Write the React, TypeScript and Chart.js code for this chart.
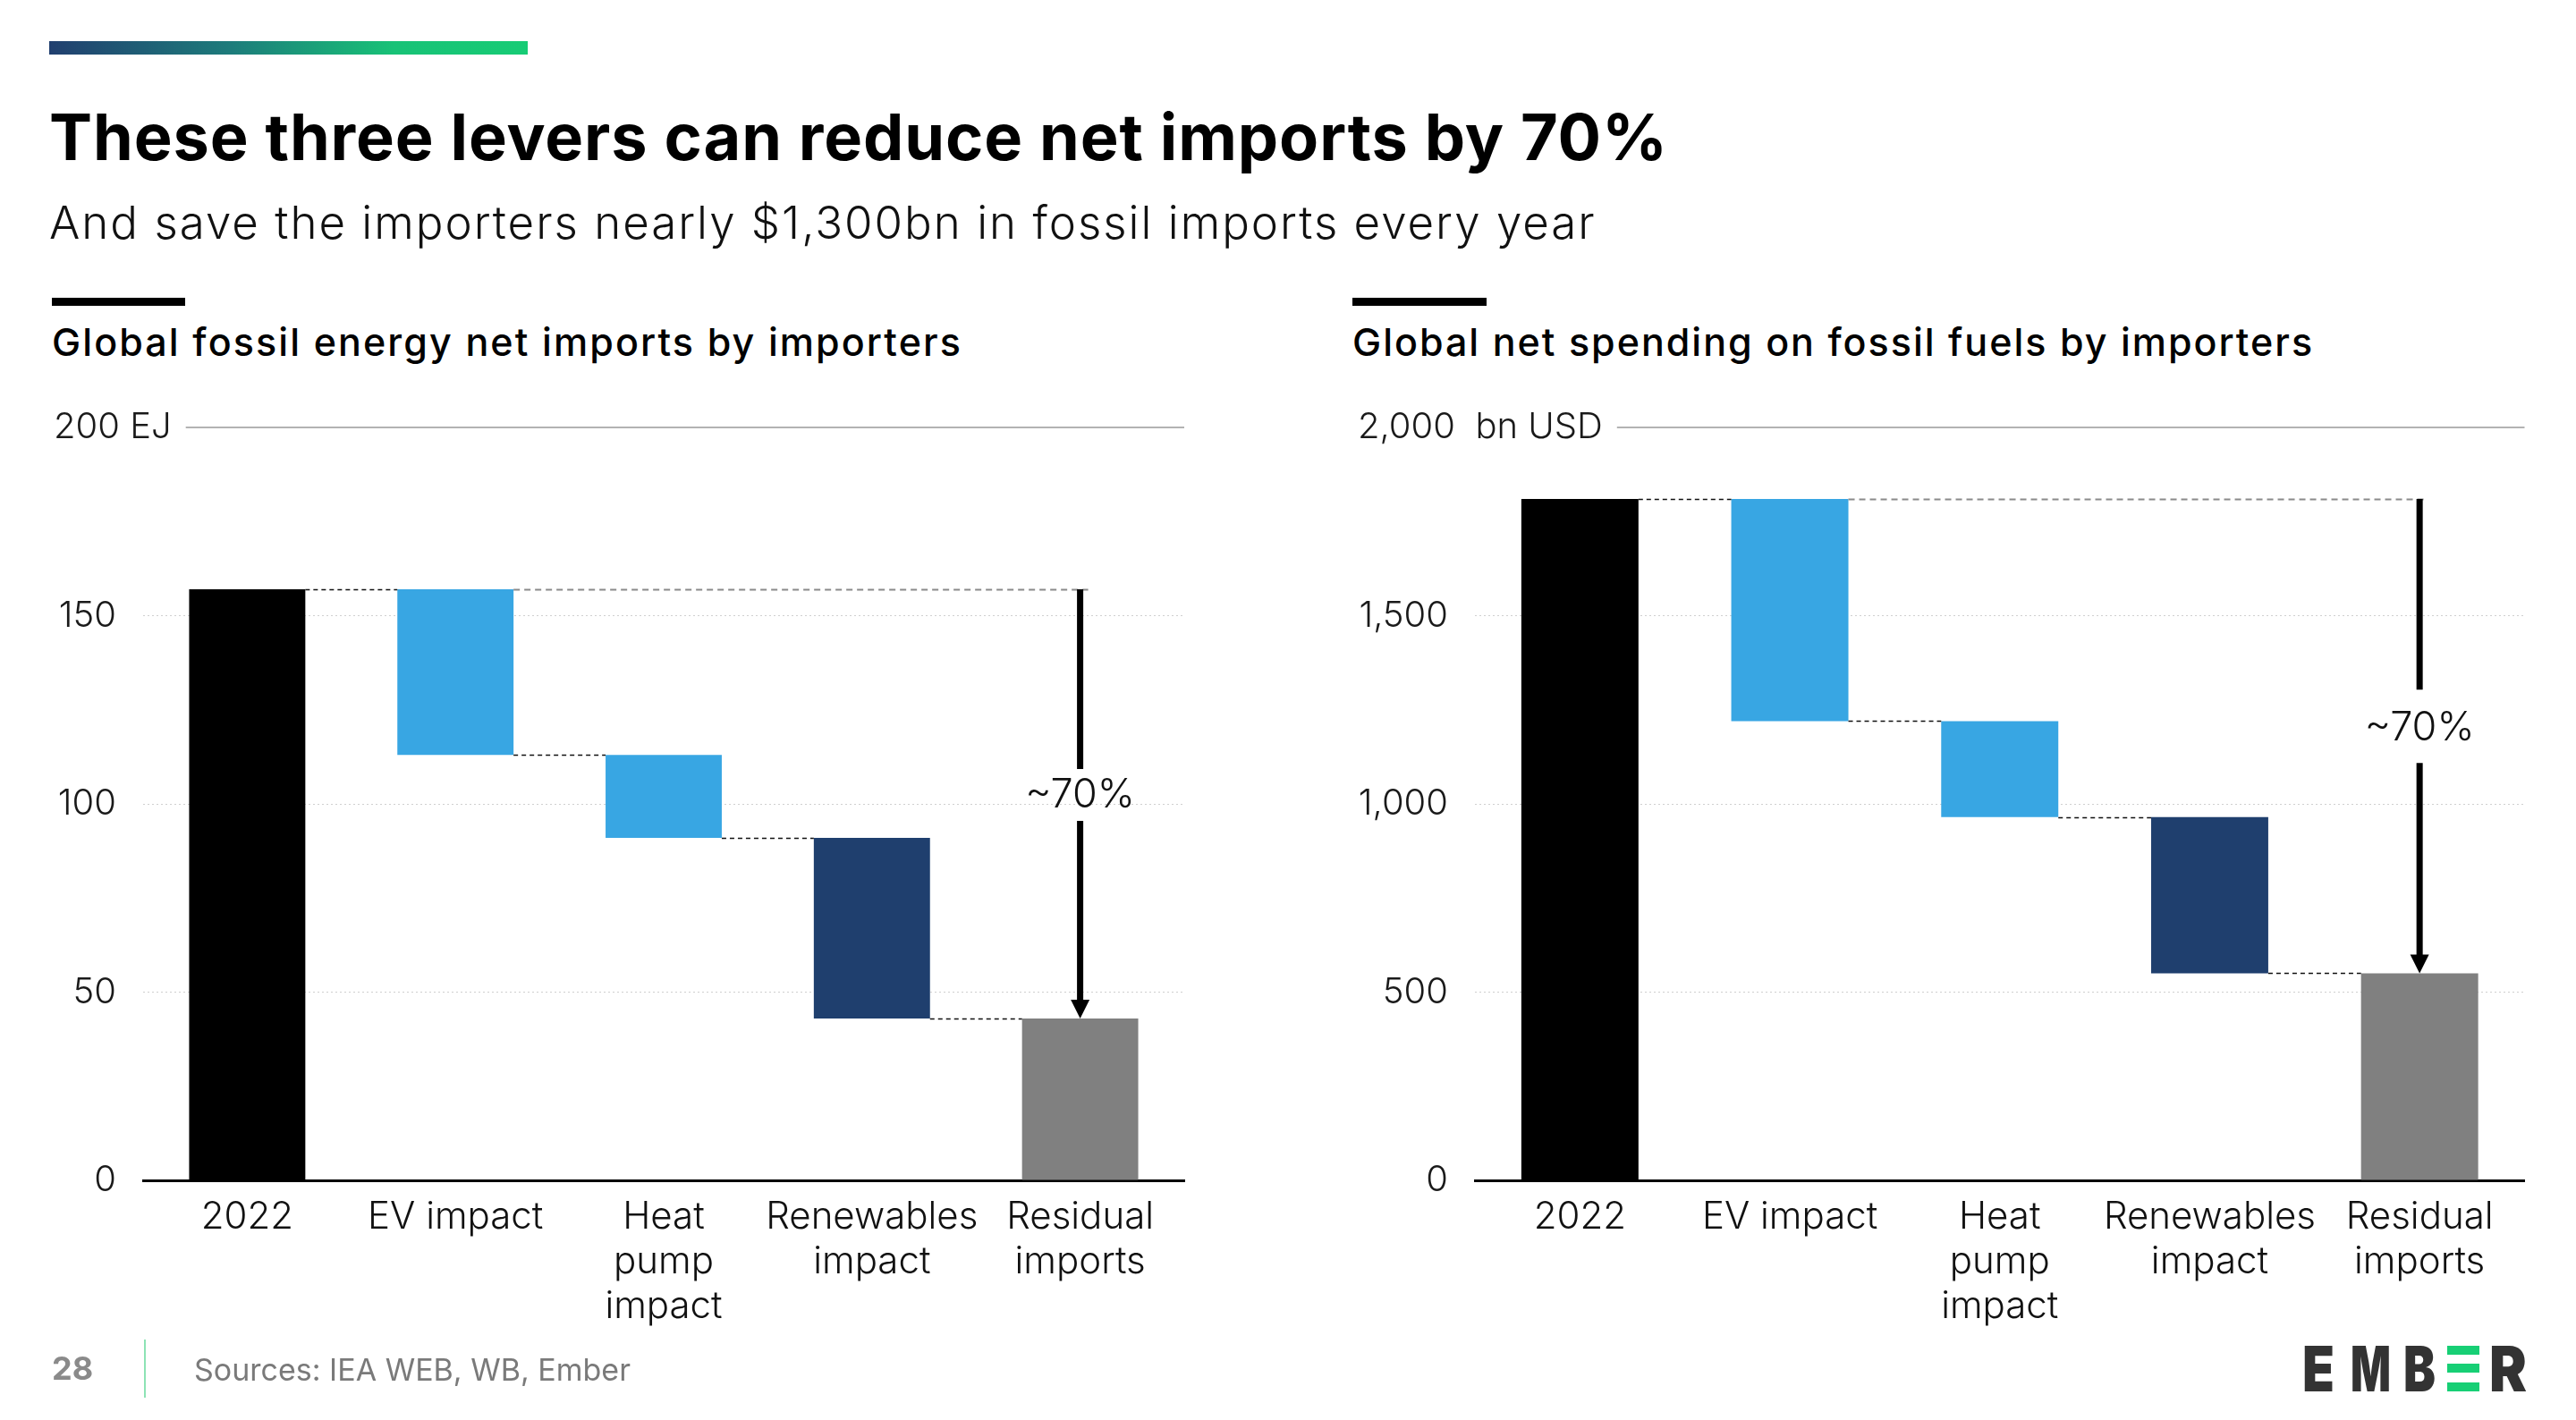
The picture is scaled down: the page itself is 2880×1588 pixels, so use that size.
import React, { useEffect, useRef } from 'react';
import { Chart, registerables } from 'chart.js';

Chart.register(...registerables);

const FONT = 'Inter, "Noto Sans", sans-serif';

// Category labels, wrapped the way they appear under the bars
const categoryLabels: (string | string[])[] = [
  '2022',
  'EV impact',
  ['Heat', 'pump', 'impact'],
  ['Renewables', 'impact'],
  ['Residual', 'imports'],
];

// Global fossil energy net imports by importers (EJ)
const energyStart = 157;
const energyImpacts = [-44, -22, -48]; // EV, heat pump, renewables
const energyTicks = [0, 50, 100, 150, 200];
const energyUnit = 'EJ';

// Global net spending on fossil fuels by importers (bn USD)
const spendStart = 1810;
const spendImpacts = [-590, -255, -415]; // EV, heat pump, renewables
const spendTicks = [0, 500, 1000, 1500, 2000];
const spendUnit = 'bn USD';

const reductionLabel = '~70%';

const barColors = ['#000000', '#38a6e3', '#38a6e3', '#1f3f6e', '#808080'];

// Floating bars for a waterfall: start total, stepwise impacts, residual total
function buildWaterfall(start: number, impacts: number[]) {
  const bars: [number, number][] = [[0, start]];
  const levels: number[] = [start];
  let level = start;
  for (const d of impacts) {
    const next = level + d;
    bars.push([Math.min(level, next), Math.max(level, next)]);
    level = next;
    levels.push(level);
  }
  bars.push([0, level]);
  return { bars, levels, end: level };
}

const waterfallNotes = {
  id: 'waterfallNotes',
  afterDatasetsDraw(chart: any, _args: any, opts: any) {
    const { ctx, chartArea } = chart;
    const y = chart.scales.y;
    const bars = chart.getDatasetMeta(0).data as any[];
    const levels: number[] = opts.levels;
    ctx.save();

    // top tick label with unit, and its rule
    const topVal = y.max;
    const topY = y.getPixelForValue(topVal);
    ctx.font = `300 40px ${FONT}`;
    ctx.fillStyle = '#1a1a1a';
    ctx.textAlign = 'left';
    ctx.textBaseline = 'middle';
    const label = `${opts.format(topVal)}${opts.unitGap}${opts.unit}`;
    ctx.fillText(label, opts.unitX, topY);
    const lw = ctx.measureText(label).width;
    ctx.strokeStyle = '#9a9a9a';
    ctx.lineWidth = 1.5;
    ctx.setLineDash([]);
    ctx.beginPath();
    ctx.moveTo(opts.unitX + lw + 16, topY);
    ctx.lineTo(chartArea.right, topY);
    ctx.stroke();

    // reference line at the starting total
    const startY = Math.round(y.getPixelForValue(opts.start)) + 0.5;
    const last = bars[bars.length - 1];
    const ax = last.x;
    ctx.setLineDash([7, 5]);
    ctx.strokeStyle = '#8a8a8a';
    ctx.lineWidth = 2;
    ctx.beginPath();
    ctx.moveTo(bars[1].x + bars[1].width / 2, startY);
    ctx.lineTo(ax + 9, startY);
    ctx.stroke();

    // connectors between consecutive bars
    ctx.setLineDash([5, 4]);
    ctx.strokeStyle = '#111111';
    ctx.lineWidth = 1.5;
    for (let i = 0; i < bars.length - 1; i++) {
      const a = bars[i];
      const b = bars[i + 1];
      const yy = Math.round(y.getPixelForValue(levels[i])) + 0.5;
      ctx.beginPath();
      ctx.moveTo(a.x + a.width / 2, yy);
      ctx.lineTo(b.x - b.width / 2, yy);
      ctx.stroke();
    }

    // reduction arrow with label
    const y0 = y.getPixelForValue(opts.start);
    const y1 = y.getPixelForValue(opts.end);
    const head = 21;
    const textMid = (y0 + y1) / 2 + opts.textShift;
    ctx.setLineDash([]);
    ctx.strokeStyle = '#000';
    ctx.lineWidth = 7;
    ctx.beginPath();
    ctx.moveTo(ax, y0);
    ctx.lineTo(ax, textMid - opts.gapAbove);
    ctx.moveTo(ax, textMid + opts.gapBelow);
    ctx.lineTo(ax, y1 - head + 1);
    ctx.stroke();
    ctx.fillStyle = '#000';
    ctx.beginPath();
    ctx.moveTo(ax - 10.5, y1 - head);
    ctx.lineTo(ax + 10.5, y1 - head);
    ctx.lineTo(ax, y1);
    ctx.closePath();
    ctx.fill();

    const fs = 45;
    ctx.font = `300 ${fs}px ${FONT}`;
    ctx.fillStyle = '#111';
    ctx.textAlign = 'center';
    ctx.textBaseline = 'alphabetic';
    ctx.fillText(opts.text, ax, textMid + (fs * 0.727) / 2);
    ctx.restore();
  },
};

type WaterfallProps = {
  start: number;
  impacts: number[];
  ticks: number[];
  unit: string;
  unitGap: string;
  left: number;
  top: number;
  width: number;
  height: number;
  axisWidth: number;
  padRight: number;
  gapAbove: number;
  gapBelow: number;
};

const fmt = (v: number) => v.toLocaleString('en-US');

function WaterfallChart(p: WaterfallProps) {
  const ref = useRef<HTMLCanvasElement>(null);
  useEffect(() => {
    if (!ref.current) return;
    const wf = buildWaterfall(p.start, p.impacts);
    const max = p.ticks[p.ticks.length - 1];
    const tickFont = { family: FONT, size: 40, weight: '300' as any };
    const chart = new Chart(ref.current, {
      type: 'bar',
      data: {
        labels: categoryLabels as any,
        datasets: [
          {
            data: wf.bars as any,
            backgroundColor: barColors,
            borderWidth: 0,
            barPercentage: 0.558,
            categoryPercentage: 1,
          },
        ],
      },
      plugins: [waterfallNotes],
      options: {
        animation: false,
        responsive: false,
        maintainAspectRatio: false,
        layout: { padding: { top: 38, right: p.padRight, bottom: 0, left: 0 } },
        plugins: {
          legend: { display: false },
          tooltip: { enabled: false },
          waterfallNotes: {
            levels: wf.levels,
            start: p.start,
            end: wf.end,
            unit: p.unit,
            unitGap: p.unitGap,
            unitX: 60,
            format: fmt,
            text: reductionLabel,
            textShift: -12,
            gapAbove: p.gapAbove,
            gapBelow: p.gapBelow,
          },
        } as any,
        scales: {
          x: {
            type: 'category',
            offset: true,
            grid: { display: false },
            border: { display: true, color: '#000', width: 3 },
            ticks: {
              color: '#111',
              font: { family: FONT, size: 42, weight: '300', lineHeight: '50px' },
              padding: 8,
              maxRotation: 0,
              autoSkip: false,
            },
            afterFit: (s: any) => {
              s.height = 220;
              s.paddingLeft = 0;
              s.paddingRight = 0;
            },
          },
          y: {
            min: 0,
            max,
            afterBuildTicks: (s: any) => {
              s.ticks = p.ticks.map((v) => ({ value: v }));
            },
            grid: {
              color: (c: any) =>
                c.tick && (c.tick.value === 0 || c.tick.value === max) ? 'rgba(0,0,0,0)' : '#cfcfcf',
              lineWidth: 1,
              drawTicks: false,
            },
            border: { display: false, dash: [2, 3] },
            ticks: {
              padding: 30,
              color: '#1a1a1a',
              font: tickFont,
              callback: (v: any) => (Number(v) === max ? '' : fmt(Number(v))),
            },
            afterFit: (s: any) => {
              s.width = p.axisWidth;
              s.paddingTop = 0;
              s.paddingBottom = 0;
            },
          },
        },
      } as any,
    });
    return () => chart.destroy();
  }, []);
  return (
    <canvas
      ref={ref}
      width={p.width}
      height={p.height}
      style={{ position: 'absolute', left: p.left, top: p.top, width: p.width, height: p.height }}
    />
  );
}

const abs = (left: number, top: number, extra: React.CSSProperties = {}): React.CSSProperties => ({
  position: 'absolute',
  left,
  top,
  whiteSpace: 'nowrap',
  lineHeight: 1,
  margin: 0,
  ...extra,
});

function Logo() {
  const dark = '#333333';
  const green = '#17cf75';
  const t = { fontFamily: FONT, fontWeight: 900, fontSize: 70, fill: dark } as any;
  return (
    <svg width={270} height={80} style={{ position: 'absolute', left: 2570, top: 1495 }}>
      <text x={4} y={61} {...t} textLength={36} lengthAdjust="spacingAndGlyphs">E</text>
      <text x={58} y={61} {...t} textLength={45} lengthAdjust="spacingAndGlyphs">M</text>
      <text x={117} y={61} {...t} textLength={36} lengthAdjust="spacingAndGlyphs">B</text>
      <rect x={166} y={10} width={36} height={10} fill={green} />
      <rect x={166} y={30} width={36} height={10} fill={green} />
      <rect x={166} y={51} width={36} height={10} fill={green} />
      <text x={213} y={61} {...t} textLength={42} lengthAdjust="spacingAndGlyphs">R</text>
    </svg>
  );
}

export default function App() {
  return (
    <div
      style={{
        position: 'absolute',
        left: 0,
        top: 0,
        width: 2880,
        height: 1588,
        background: '#ffffff',
        overflow: 'hidden',
        fontFamily: FONT,
      }}
    >
      <div
        style={abs(55, 46, {
          width: 535,
          height: 15,
          background: 'linear-gradient(90deg, #213f6f 0%, #1d7c7b 38%, #18c277 72%, #17cc75 100%)',
        })}
      />
      <div style={abs(55, 117, { fontSize: 72, fontWeight: 700, color: '#000', letterSpacing: 0.9 })}>
        These three levers can reduce net imports by 70%
      </div>
      <div style={abs(55, 223, { fontSize: 51, fontWeight: 300, color: '#111', letterSpacing: 2.0 })}>
        And save the importers nearly $1,300bn in fossil imports every year
      </div>

      <div style={abs(58, 333, { width: 149, height: 9, background: '#000' })} />
      <div style={abs(58, 361, { fontSize: 43, fontWeight: 500, color: '#000', letterSpacing: 2.1 })}>
        Global fossil energy net imports by importers
      </div>
      <div style={abs(1512, 333, { width: 150, height: 9, background: '#000' })} />
      <div style={abs(1512, 361, { fontSize: 43, fontWeight: 500, color: '#000', letterSpacing: 2.0 })}>
        Global net spending on fossil fuels by importers
      </div>

      <WaterfallChart
        start={energyStart}
        impacts={energyImpacts}
        ticks={energyTicks}
        unit={energyUnit}
        unitGap=" "
        left={0}
        top={440}
        width={1400}
        height={1100}
        axisWidth={160}
        padRight={76}
        gapAbove={27}
        gapBelow={31}
      />
      <WaterfallChart
        start={spendStart}
        impacts={spendImpacts}
        ticks={spendTicks}
        unit={spendUnit}
        unitGap="  "
        left={1458}
        top={440}
        width={1400}
        height={1100}
        axisWidth={191}
        padRight={35.5}
        gapAbove={40}
        gapBelow={42}
      />

      <div style={abs(58, 1512, { fontSize: 36, fontWeight: 700, color: '#8a8a8a' })}>28</div>
      <div style={abs(161, 1498, { width: 2, height: 65, background: '#8de3b5' })} />
      <div style={abs(217, 1515, { fontSize: 34, fontWeight: 400, color: '#7a7a7a' })}>
        Sources: IEA WEB, WB, Ember
      </div>
      <Logo />
    </div>
  );
}
